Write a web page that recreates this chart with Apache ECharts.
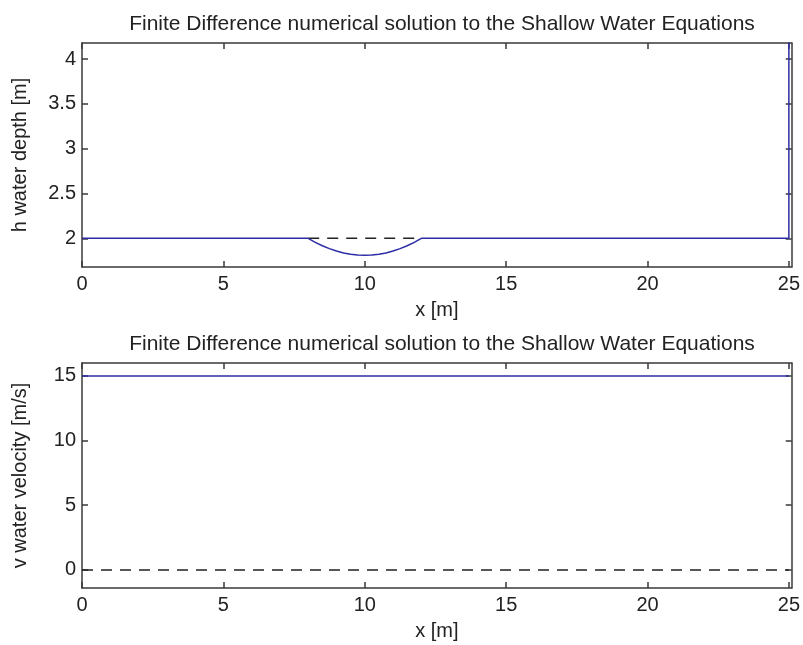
<!DOCTYPE html>
<html>
<head>
<meta charset="utf-8">
<script src="https://cdn.jsdelivr.net/npm/echarts@6/dist/echarts.min.js"></script>
<style>
  html, body { margin:0; padding:0; background:#fff; }
  #chart { width:803px; height:645px; }
</style>
</head>
<body>
<div id="chart"></div>
<script>
// data
const titleText = 'Finite Difference numerical solution to the Shallow Water Equations';
const xTicks = [0, 5, 10, 15, 20, 25];
const hTicks = [2, 2.5, 3, 3.5, 4];
const vTicks = [0, 5, 10, 15];

// water depth h(x) at final time (solid blue)
const hX = [0, 8, 8.25, 8.5, 8.75, 9, 9.25, 9.5, 9.75, 10, 10.25, 10.5, 10.75, 11, 11.25, 11.5, 11.75, 12, 25, 25];
const hY = [2, 2, 1.955, 1.917, 1.885, 1.858, 1.837, 1.822, 1.813, 1.81, 1.813, 1.822, 1.837, 1.858, 1.885, 1.917, 1.955, 2, 2, 4.6];
// initial depth over the bump (dashed)
const h0X = [8, 12];
const h0Y = [2, 2];

// velocity v(x)
const vX = [0, 25];
const vY = [15, 15];
const v0X = [0, 25];
const v0Y = [0, 0];

const FONT = 'Liberation Sans';
const FRAME = '#3a3a3a';
const BLUE = '#2c2ca6';
const TXT = '#222';

const pairs = (xs, ys) => xs.map((x, i) => [x, ys[i]]);

const chart = echarts.init(document.getElementById('chart'), null, { renderer: 'canvas' });

const grids = [
  { left: 82, right: 10, top: 43, height: 224 },
  { left: 82, right: 10, top: 363, height: 225 }
];

function xAxes(gi) {
  return [
    {
      gridIndex: gi, type: 'value', min: 0, max: 25.1, position: 'bottom',
      name: 'x [m]', nameLocation: 'middle', nameGap: 33,
      nameTextStyle: { fontFamily: FONT, fontSize: 20, color: TXT },
      axisLine: { show: true, onZero: false, lineStyle: { color: FRAME, width: 1.5 } },
      axisTick: { show: true, inside: true, length: 6, customValues: xTicks, lineStyle: { color: FRAME, width: 1.5 } },
      axisLabel: { customValues: xTicks, fontFamily: FONT, fontSize: 20, color: TXT, margin: 7 },
      splitLine: { show: false }
    },
    {
      gridIndex: gi, type: 'value', min: 0, max: 25.1, position: 'top',
      axisLine: { show: true, onZero: false, lineStyle: { color: FRAME, width: 1.5 } },
      axisTick: { show: true, inside: true, length: 6, customValues: xTicks, lineStyle: { color: FRAME, width: 1.5 } },
      axisLabel: { show: false },
      splitLine: { show: false }
    }
  ];
}

function yAxes(gi, min, max, ticks, name) {
  return [
    {
      gridIndex: gi, type: 'value', min: min, max: max, position: 'left',
      name: name, nameLocation: 'middle', nameGap: 52, nameRotate: 90,
      nameTextStyle: { fontFamily: FONT, fontSize: 20, color: TXT },
      axisLine: { show: true, onZero: false, lineStyle: { color: FRAME, width: 1.5 } },
      axisTick: { show: true, inside: true, length: 6, customValues: ticks, lineStyle: { color: FRAME, width: 1.5 } },
      axisLabel: { customValues: ticks, fontFamily: FONT, fontSize: 20, color: TXT, margin: 6 },
      splitLine: { show: false }
    },
    {
      gridIndex: gi, type: 'value', min: min, max: max, position: 'right',
      axisLine: { show: true, onZero: false, lineStyle: { color: FRAME, width: 1.5 } },
      axisTick: { show: true, inside: true, length: 6, customValues: ticks, lineStyle: { color: FRAME, width: 1.5 } },
      axisLabel: { show: false },
      splitLine: { show: false }
    }
  ];
}

chart.setOption({
  animation: false,
  backgroundColor: '#fff',
  title: [
    { text: titleText, left: 437, top: 9, textAlign: 'center',
      textStyle: { fontFamily: FONT, fontSize: 21, fontWeight: 'normal', color: TXT } },
    { text: titleText, left: 437, top: 329, textAlign: 'center',
      textStyle: { fontFamily: FONT, fontSize: 21, fontWeight: 'normal', color: TXT } }
  ],
  grid: grids,
  xAxis: [...xAxes(0), ...xAxes(1)],
  yAxis: [...yAxes(0, 1.68, 4.18, hTicks, 'h water depth [m]'), ...yAxes(1, -1.4, 16, vTicks, 'v water velocity [m/s]')],
  series: [
    { type: 'line', xAxisIndex: 0, yAxisIndex: 0, data: pairs(h0X, h0Y), symbol: 'none',
      lineStyle: { color: '#222', width: 1.5, type: [11, 8] } },
    { type: 'line', xAxisIndex: 0, yAxisIndex: 0, data: pairs(hX, hY), symbol: 'none', clip: true,
      lineStyle: { color: BLUE, width: 1.5 } },
    { type: 'line', xAxisIndex: 2, yAxisIndex: 2, data: pairs(v0X, v0Y), symbol: 'none',
      lineStyle: { color: '#222', width: 1.5, type: [11, 8] } },
    { type: 'line', xAxisIndex: 2, yAxisIndex: 2, data: pairs(vX, vY), symbol: 'none',
      lineStyle: { color: BLUE, width: 1.5 } }
  ]
});
</script>
</body>
</html>
